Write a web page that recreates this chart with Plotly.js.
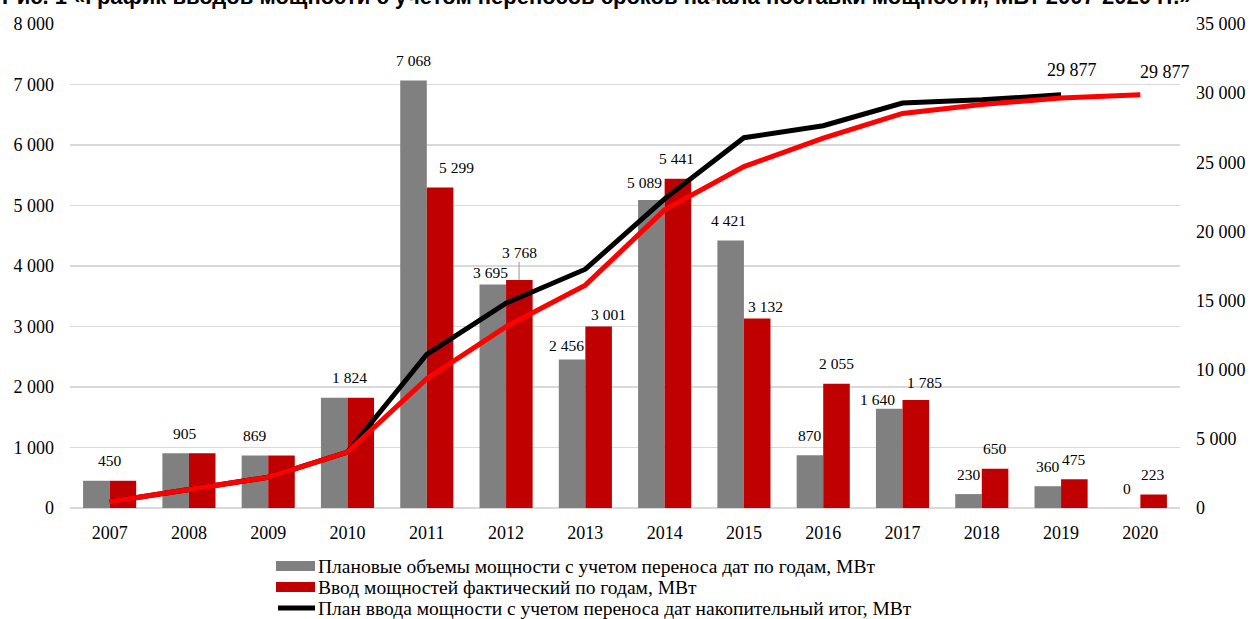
<!DOCTYPE html>
<html>
<head>
<meta charset="utf-8">
<script src="https://cdn.plot.ly/plotly-3.0.1.min.js"></script>
<style>html,body{margin:0;padding:0;background:#fff;}#chart{width:1250px;height:619px;}</style>
</head>
<body>
<div id="chart"></div>
<script>
// ---- data ----
var years = ['2007','2008','2009','2010','2011','2012','2013','2014','2015','2016','2017','2018','2019','2020'];
var planYearly = [450, 905, 869, 1824, 7068, 3695, 2456, 5089, 4421, 870, 1640, 230, 360, 0];
var factYearly = [450, 905, 869, 1824, 5299, 3768, 3001, 5441, 3132, 2055, 1785, 650, 475, 223];
var planCumulative = [450, 1355, 2224, 4048, 11116, 14811, 17267, 22356, 26777, 27647, 29287, 29517, 29877, null];
var factCumulative = [450, 1355, 2224, 4048, 9347, 13115, 16116, 21557, 24689, 26744, 28529, 29179, 29654, 29877];

var names = [
  'Плановые объемы мощности с учетом переноса дат по годам, МВт',
  'Ввод мощностей фактический по годам, МВт',
  'План ввода мощности с учетом переноса дат накопительный итог, МВт',
  'Ввод мощностей фактический накопительный итог, МВт'
];
var titleText = 'Рис. 1 «График вводов мощности с учетом переносов сроков начала поставки мощности, МВт 2007-2020 гг.»';

var GRAY = '#808080', DARKRED = '#C00000', RED = '#FF0000', BLACK = '#000000';
var SERIF = 'Liberation Serif, Times New Roman, serif';

function fmt(v){ return String(v).replace(/\B(?=(\d{3})+(?!\d))/g, ' '); }

var traces = [
  {type:'bar', x:years, y:planYearly, name:names[0], marker:{color:GRAY}, yaxis:'y', showlegend:false, hoverinfo:'skip'},
  {type:'bar', x:years, y:factYearly, name:names[1], marker:{color:DARKRED}, yaxis:'y', showlegend:false, hoverinfo:'skip'},
  {type:'scatter', mode:'lines', x:years, y:planCumulative, name:names[2], line:{color:BLACK, width:5}, yaxis:'y2', showlegend:false, connectgaps:false},
  {type:'scatter', mode:'lines', x:years, y:factCumulative, name:names[3], line:{color:RED, width:5}, yaxis:'y2', showlegend:false}
];

// label placement tweaks (pixel offsets from default placement), layout only
var tweaks = {
  '2008:eq':{dx:-4}, '2009:eq':{dx:-13}, '2010:eq':{dx:2},
  '2011:f':{dx:30},
  '2012:p':{dx:-16, dy:12}, '2012:f':{dx:13, dy:28, leader:true},
  '2013:p':{dx:-19, dy:14}, '2013:f':{dx:23, dy:12},
  '2014:p':{dx:-20, dy:18}, '2014:f':{dx:12},
  '2015:p':{dx:-15}, '2015:f':{dx:22, dy:12},
  '2017:p':{dx:-25, dy:9}, '2017:f':{dx:22, dy:18}
};

var annotations = [];
var labelFont = {family:SERIF, size:15.5, color:'#000'};
function addLabel(i, val, key, defDx){
  var t = tweaks[years[i] + ':' + key] || {};
  var dx = (t.dx !== undefined) ? t.dx : defDx;
  var dy = (t.dy !== undefined) ? t.dy : 20;
  if (t.leader) {
    annotations.push({x:i, y:val, xref:'x', yref:'y', text:fmt(val), showarrow:true, arrowhead:0, arrowwidth:1.2,
      arrowcolor:'#a6a6a6', ax:0, ay:-dy, xshift:dx, font:labelFont, standoff:0});
  } else {
    annotations.push({x:i, y:val, xref:'x', yref:'y', text:fmt(val), showarrow:false, font:labelFont, yanchor:'middle', xshift:dx, yshift:dy});
  }
}
years.forEach(function(yr, i){
  var p = planYearly[i], f = factYearly[i];
  if (p === f) {
    addLabel(i, f, 'eq', 0);
  } else {
    addLabel(i, p, 'p', -13);
    addLabel(i, f, 'f', 13);
  }
});
// cumulative end labels
var lastPlan = 12, lastFact = 13;
var bigLabel = {family:SERIF, size:18, color:'#000'};
annotations.push({x:lastPlan, y:planCumulative[lastPlan], xref:'x', yref:'y2', text:fmt(planCumulative[lastPlan]), showarrow:false, font:bigLabel, yanchor:'middle', xshift:11, yshift:25});
annotations.push({x:lastFact, y:factCumulative[lastFact], xref:'x', yref:'y2', text:fmt(factCumulative[lastFact]), showarrow:false, font:bigLabel, yanchor:'middle', xshift:25, yshift:23});

var L = 70, T = 24, W = 1110, H = 484;
function px2x(px){ return (px - L)/W; }
function px2y(py){ return (T + H - py)/H; }

// cut-off title at top
annotations.push({x:px2x(597), y:1, xref:'paper', yref:'paper', text:'<b>'+titleText+'</b>', showarrow:false,
  font:{family:'Liberation Sans, Arial, sans-serif', size:22, color:'#000'}, xanchor:'center', yanchor:'bottom', yshift:13});

// legend (manual, drawn below the plot)
var legendRows = [
  {name:names[0], color:GRAY, kind:'bar'},
  {name:names[1], color:DARKRED, kind:'bar'},
  {name:names[2], color:BLACK, kind:'line'}
];
var shapes = [];
legendRows.forEach(function(r, k){
  var cy = 566 + k*21;
  if (r.kind === 'bar') {
    shapes.push({type:'rect', xref:'paper', yref:'paper', x0:px2x(276), x1:px2x(315), y0:px2y(cy+5), y1:px2y(cy-5), fillcolor:r.color, line:{width:0}});
  } else {
    shapes.push({type:'line', xref:'paper', yref:'paper', x0:px2x(278), x1:px2x(315), y0:px2y(cy), y1:px2y(cy), line:{color:r.color, width:5}});
  }
  annotations.push({x:px2x(316), y:px2y(cy), xref:'paper', yref:'paper', text:r.name, showarrow:false, xanchor:'left', yanchor:'middle', font:{family:SERIF, size:19.5, color:'#000'}});
});

var layout = {
  width:1250, height:619,
  margin:{l:L, r:1250-L-W, t:T, b:619-T-H},
  paper_bgcolor:'#fff', plot_bgcolor:'#fff',
  separators:', ',
  barmode:'group', bargap:0.33, bargroupgap:0,
  showlegend:false,
  font:{family:SERIF, size:18, color:'#000'},
  xaxis:{type:'category', range:[-0.5, years.length-0.5], autorange:false, showgrid:false, zeroline:false, showline:false, ticks:'', ticklabelstandoff:12, tickfont:{family:SERIF, size:18}},
  yaxis:{range:[0,8000], autorange:false, dtick:1000, exponentformat:'none', separatethousands:true, showgrid:true, gridcolor:'#d9d9d9', gridwidth:1.5, zeroline:true, zerolinecolor:'#d9d9d9', zerolinewidth:1.5, showline:false, ticks:'', ticklabelstandoff:15, tickfont:{family:SERIF, size:18}},
  yaxis2:{range:[0,35000], autorange:false, dtick:5000, exponentformat:'none', separatethousands:true, overlaying:'y', side:'right', showgrid:false, zeroline:false, showline:false, ticks:'', ticklabelstandoff:15, tickfont:{family:SERIF, size:18}},
  shapes:shapes,
  annotations:annotations
};

Plotly.newPlot('chart', traces, layout, {displayModeBar:false, staticPlot:true});
</script>
</body>
</html>
